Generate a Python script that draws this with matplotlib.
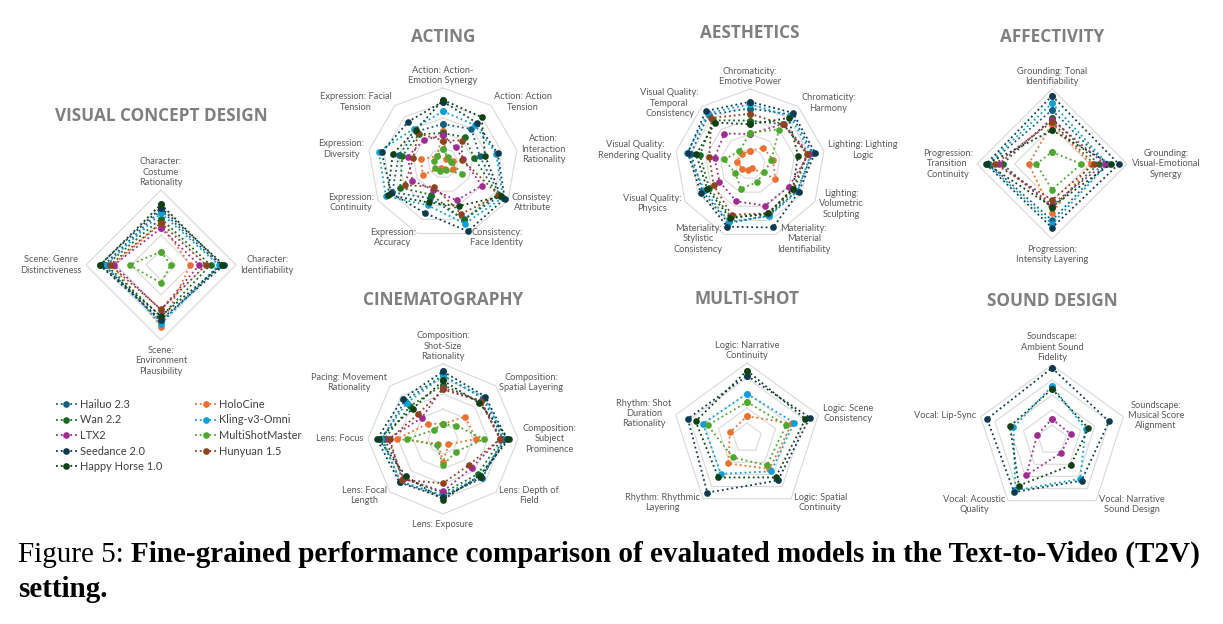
import numpy as np
import matplotlib.pyplot as plt
from matplotlib.lines import Line2D

W, H = 1223, 624
R_PX = 75  # radar outer radius in pixels

MODELS = ["Hailuo 2.3", "HoloCine", "Wan 2.2", "Kling-v3-Omni", "LTX2",
          "MultiShotMaster", "Seedance 2.0", "Hunyuan 1.5", "Happy Horse 1.0"]
COLORS = ["#156082", "#E97132", "#196B24", "#0F9ED5", "#A02B93",
          "#4EA72E", "#0D3A4E", "#8C441E", "#0F4016"]

# ---- Visual concept design ----
VCD_AXES = ["Character:\nCostume\nRationality", "Character:\nIdentifiability",
            "Scene:\nEnvironment\nPlausibility", "Scene: Genre\nDistinctiveness"]
VCD = {
    "Hailuo 2.3": [73, 79, 76, 76],
    "HoloCine": [55, 39, 82, 65],
    "Wan 2.2": [62, 66, 69, 73],
    "Kling-v3-Omni": [69, 77, 78, 74],
    "LTX2": [49, 51, 60, 63],
    "MultiShotMaster": [18, 13, 24, 42],
    "Seedance 2.0": [76, 84, 73, 82],
    "Hunyuan 1.5": [56, 60, 59, 68],
    "Happy Horse 1.0": [81, 81, 68, 81],
}

# ---- Acting ----
ACTING_AXES = ["Action: Action-\nEmotion Synergy", "Action: Action\nTension",
               "Action:\nInteraction\nRationality", "Consistey:\nAttribute",
               "Consistency:\nFace Identity", "Expression:\nAccuracy",
               "Expression:\nContinuity", "Expression:\nDiversity",
               "Expression: Facial\nTension"]
ACTING = {
    "Hailuo 2.3": [52, 59, 50, 88, 80, 50, 78, 60, 55],
    "HoloCine": [43, 7, 13, 15, 8, 7, 31, 30, 12],
    "Wan 2.2": [40, 45, 42, 84, 81, 45, 66, 55, 50],
    "Kling-v3-Omni": [69, 66, 72, 92, 86, 60, 88, 87, 60],
    "LTX2": [37, 27, 27, 60, 53, 38, 47, 48, 40],
    "MultiShotMaster": [19, 10, 11, 30, 10, 12, 13, 12, 12],
    "Seedance 2.0": [82, 70, 74, 95, 97, 71, 80, 83, 72],
    "Hunyuan 1.5": [30, 39, 26, 86, 72, 34, 59, 40, 52],
    "Happy Horse 1.0": [84, 80, 57, 89, 61, 56, 85, 68, 57],
}

# ---- Aesthetics ----
AES_AXES = ["Chromaticity:\nEmotive Power", "Chromaticity:\nHarmony",
            "Lighting: Lighting\nLogic", "Lighting:\nVolumetric\nSculpting",
            "Materiality:\nMaterial\nIdentifiability", "Materiality:\nStylistic\nConsistency",
            "Visual Quality:\nPhysics", "Visual Quality:\nRendering Quality",
            "Visual Quality:\nTemporal\nConsistency"]
AES = {
    "Hailuo 2.3": [74, 86, 85, 72, 73, 84, 73, 80, 86],
    "HoloCine": [18, 28, 31, 39, 6, 9, 12, 18, 17],
    "Wan 2.2": [58, 69, 78, 68, 72, 75, 63, 68, 76],
    "Kling-v3-Omni": [80, 83, 83, 73, 74, 82, 70, 85, 88],
    "LTX2": [40, 70, 80, 60, 59, 53, 47, 48, 53],
    "MultiShotMaster": [42, 60, 29, 22, 26, 35, 23, 35, 22],
    "Seedance 2.0": [83, 89, 88, 75, 90, 89, 76, 84, 92],
    "Hunyuan 1.5": [67, 69, 77, 66, 70, 72, 56, 55, 80],
    "Happy Horse 1.0": [53, 80, 65, 66, 70, 77, 66, 73, 72],
}

# ---- Affectivity ----
AFF_AXES = ["Grounding: Tonal\nIdentifiability", "Grounding:\nVisual-Emotional\nSynergy",
            "Progression:\nIntensity Layering", "Progression:\nTransition\nContinuity"]
AFF = {
    "Hailuo 2.3": [72, 72, 75, 84],
    "HoloCine": [54, 52, 65, 31],
    "Wan 2.2": [61, 62, 58, 66],
    "Kling-v3-Omni": [81, 74, 80, 86],
    "LTX2": [59, 70, 54, 71],
    "MultiShotMaster": [16, 39, 34, 21],
    "Seedance 2.0": [91, 89, 85, 88],
    "Hunyuan 1.5": [56, 56, 48, 76],
    "Happy Horse 1.0": [45, 78, 57, 87],
}

# ---- Cinematography ----
CINE_AXES = ["Composition:\nShot-Size\nRationality", "Composition:\nSpatial Layering",
             "Composition:\nSubject\nProminence", "Lens: Depth of\nField",
             "Lens: Exposure", "Lens: Focal\nLength", "Lens: Focus",
             "Pacing: Movement\nRationality"]
CINE = {
    "Hailuo 2.3": [85, 76, 80, 74, 76, 81, 81, 72],
    "HoloCine": [20, 42, 44, 10, 31, 9, 61, 29],
    "Wan 2.2": [72, 70, 78, 66, 72, 74, 78, 62],
    "Kling-v3-Omni": [84, 78, 83, 70, 75, 80, 83, 68],
    "LTX2": [68, 72, 76, 54, 70, 75, 73, 40],
    "MultiShotMaster": [20, 25, 55, 24, 35, 12, 48, 17],
    "Seedance 2.0": [90, 80, 85, 72, 78, 82, 88, 76],
    "Hunyuan 1.5": [66, 71, 76, 49, 59, 77, 71, 47],
    "Happy Horse 1.0": [78, 68, 88, 69, 81, 70, 86, 57],
}

# ---- Multi-shot (only multi-shot capable models) ----
MULTI_AXES = ["Logic: Narrative\nContinuity", "Logic: Scene\nConsistency",
              "Logic: Spatial\nContinuity", "Rhythm: Rhythmic\nLayering",
              "Rhythm: Shot\nDuration\nRationality"]
MULTI = {
    "HoloCine": [29, 63, 51, 42, 24],
    "Kling-v3-Omni": [59, 66, 55, 59, 62],
    "MultiShotMaster": [48, 55, 45, 32, 55],
    "Seedance 2.0": [83, 88, 70, 90, 83],
    "Happy Horse 1.0": [90, 82, 65, 65, 72],
}

# ---- Sound design (only audio-capable models) ----
SOUND_AXES = ["Soundscape:\nAmbient Sound\nFidelity", "Soundscape:\nMusical Score\nAlignment",
              "Vocal: Narrative\nSound Design", "Vocal: Acoustic\nQuality", "Vocal: Lip-Sync"]
SOUND = {
    "Kling-v3-Omni": [72, 47, 64, 83, 54],
    "LTX2": [28, 26, 21, 58, 21],
    "Seedance 2.0": [96, 80, 67, 86, 91],
    "Happy Horse 1.0": [68, 51, 42, 75, 59],
}

LABEL_FONT = "Lato"
TITLE_FONT = "Open Sans"

fig = plt.figure(figsize=(W / 100, H / 100), dpi=100)


def radar(cx, cy, title, ty, labels, scores, rings=(20, 40, 60, 80, 100)):
    ax = fig.add_axes([(cx - R_PX) / W, 1 - (cy + R_PX) / H, 2 * R_PX / W, 2 * R_PX / H],
                      projection="polar")
    ax.set_theta_offset(np.pi / 2)
    ax.set_theta_direction(-1)
    ax.set_ylim(0, 100)
    ax.grid(False)
    ax.set_xticks([])
    ax.set_yticks([])
    ax.spines["polar"].set_visible(False)
    ax.patch.set_alpha(0)

    n = len(labels)
    theta = np.linspace(0, 2 * np.pi, n, endpoint=False)
    th_closed = np.append(theta, theta[0])

    # polygon gridlines
    for rv in rings:
        ax.plot(th_closed, [rv] * (n + 1), color="#d9d9d9", lw=0.8, zorder=1, clip_on=False)

    for name, color in zip(MODELS, COLORS):
        if name not in scores:
            continue
        vals = scores[name]
        ax.plot(th_closed, vals + vals[:1], linestyle=":", lw=1.3, color=color,
                marker="o", ms=4.8, mew=0, zorder=3, clip_on=False)

    for t, lab in zip(theta, labels):
        s, c = np.sin(t), np.cos(t)
        if abs(s) < 0.05:
            ha = "center"
            va = "bottom" if c > 0 else "top"
            r = 104 if c > 0 else 108
        else:
            ha = "left" if s > 0 else "right"
            va = "center"
            r = 106
        ax.text(t, r, lab, ha=ha, va=va, fontsize=6.7, color="#595959",
                family=LABEL_FONT, multialignment="center", linespacing=1.2)

    fig.text(cx / W, 1 - ty / H, title, ha="center", va="center", fontsize=12.3,
             fontweight="bold", color="#7f7f7f", family=TITLE_FONT)
    return ax


radar(161, 265, "VISUAL CONCEPT DESIGN", 116, VCD_AXES, VCD)
radar(443, 163, "ACTING", 37, ACTING_AXES, ACTING)
radar(750, 164, "AESTHETICS", 33, AES_AXES, AES)
radar(1052, 164, "AFFECTIVITY", 37, AFF_AXES, AFF, rings=(50, 100))
radar(443, 439, "CINEMATOGRAPHY", 300, CINE_AXES, CINE)
radar(747, 438, "MULTI-SHOT", 299, MULTI_AXES, MULTI)
radar(1052, 440, "SOUND DESIGN", 301, SOUND_AXES, SOUND)

# legend: left column then right column
order = [0, 2, 4, 6, 8, 1, 3, 5, 7]
handles = [Line2D([], [], linestyle=":", lw=1.3, color=COLORS[i], marker="o", ms=4.8, mew=0)
           for i in order]
fig.legend(handles, [MODELS[i] for i in order], loc="upper left",
           bbox_to_anchor=(46 / W, 1 - 389 / H), ncol=2, frameon=False,
           handlelength=1.9, handletextpad=0.3, columnspacing=3.0,
           labelspacing=0.42, labelcolor="#404040", prop={"family": LABEL_FONT, "size": 7.9})

# caption
t1 = fig.text(18 / W, 1 - 562 / H, "Figure 5:", family="Liberation Serif", fontsize=21,
              va="baseline")
renderer = fig.canvas.get_renderer()
bb = t1.get_window_extent(renderer)
fig.text((bb.x1 + 7) / W, 1 - 562 / H,
         "Fine-grained performance comparison of evaluated models in the Text-to-Video (T2V)",
         family="Liberation Serif", fontsize=21, fontweight="bold", va="baseline")
fig.text(18 / W, 1 - 597 / H, "setting.", family="Liberation Serif", fontsize=21,
         fontweight="bold", va="baseline")

fig.savefig("out.png", dpi=100)
